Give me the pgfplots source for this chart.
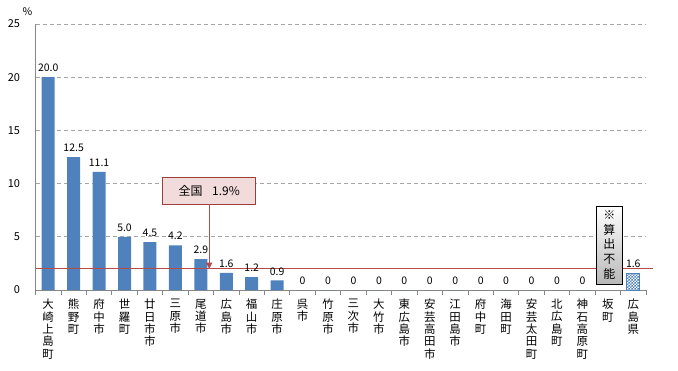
\documentclass[border=0pt]{standalone}
\usepackage{pgfplots}
\pgfplotsset{compat=1.18}
\usepackage{pgfplotstable}
\usepackage{fontspec}
\setmainfont{Noto Sans CJK JP}
\usetikzlibrary{patterns,arrows.meta}
\definecolor{barblue}{HTML}{4F81BD}
\definecolor{refred}{HTML}{B84A47}
\definecolor{calloutfill}{HTML}{F2DCDB}
\definecolor{gridgray}{HTML}{A6A6A6}
\definecolor{axgray}{HTML}{868686}
\pgfdeclarepatternformonly{finecheck}{\pgfqpoint{0pt}{0pt}}{\pgfqpoint{3pt}{3pt}}{\pgfqpoint{3pt}{3pt}}{%
  \pgfpathrectangle{\pgfqpoint{0pt}{0pt}}{\pgfqpoint{1.5pt}{1.5pt}}%
  \pgfpathrectangle{\pgfqpoint{1.5pt}{1.5pt}}{\pgfqpoint{1.5pt}{1.5pt}}%
  \pgfusepath{fill}}

\pgfplotstableread{
x y lab
0 20.0 20.0
1 12.5 12.5
2 11.1 11.1
3 5.0 5.0
4 4.5 4.5
5 4.2 4.2
6 2.9 2.9
7 1.6 1.6
8 1.2 1.2
9 0.9 0.9
10 0 0
11 0 0
12 0 0
13 0 0
14 0 0
15 0 0
16 0 0
17 0 0
18 0 0
19 0 0
20 0 0
21 0 0
}\maindata

\pgfplotstableread{
x y lab
23 1.6 1.6
}\prefdata

\begin{document}
\begin{tikzpicture}
\begin{axis}[
  scale only axis,
  width=610.5bp, height=266bp,
  xmin=-0.5, xmax=23.5,
  ymin=0, ymax=25,
  ytick={0,5,10,15,20,25},
  axis x line*=bottom,
  axis y line*=left,
  axis line style={axgray, line width=0.8bp},
  ymajorgrids,
  major grid style={gridgray, dash pattern=on 4bp off 3bp, line width=0.7bp},
  ytick style={draw=none},
  yticklabel style={font=\fontsize{11}{12}\selectfont, anchor=east, xshift=-12bp},
  /pgf/number format/assume math mode=true,
  xtick={0,...,23},
  minor xtick={-0.5,0.5,...,23.5},
  tick align=outside,
  major tick length=0pt,
  minor tick length=4.5bp,
  minor tick style={axgray, line width=0.8bp},
  xticklabels={{大\\崎\\上\\島\\町},{熊\\野\\町},{府\\中\\市},{世\\羅\\町},{廿\\日\\市\\市},{三\\原\\市},{尾\\道\\市},{広\\島\\市},{福\\山\\市},{庄\\原\\市},{呉\\市},{竹\\原\\市},{三\\次\\市},{大\\竹\\市},{東\\広\\島\\市},{安\\芸\\高\\田\\市},{江\\田\\島\\市},{府\\中\\町},{海\\田\\町},{安\\芸\\太\\田\\町},{北\\広\\島\\町},{神\\石\\高\\原\\町},{坂\\町},{広\\島\\県}},
  xticklabel style={font=\fontsize{11.5}{12.4}\selectfont, align=center, anchor=north, yshift=-9bp, inner sep=0pt},
  ybar, bar width=13bp, bar shift=0pt,
  clip=false,
  nodes near coords,
  point meta=explicit symbolic,
  every node near coord/.append style={font=\fontsize{10.5}{11}\selectfont, inner sep=0pt, yshift=5bp, anchor=south},
]
\addplot[fill=barblue, draw=none] table[x=x, y=y, meta=lab] {\maindata};
\addplot[pattern=finecheck, pattern color=barblue, draw=barblue, line width=0.6bp] table[x=x, y=y, meta=lab] {\prefdata};
\addplot[sharp plot, refred, line width=1bp, nodes near coords={}] coordinates {(-0.5,2.0) (23.78,2.0)};
\node[draw=refred!85!black, fill=calloutfill, line width=0.7bp, minimum width=93bp, minimum height=27bp, inner sep=0pt, font=\fontsize{12}{13}\selectfont] (callout) at (axis cs:6.33,9.35) {全国\hspace{0.8em}1.9\%};
\draw[refred, line width=0.8bp, -{Triangle[length=6bp,width=6bp]}] (callout.south) -- (axis cs:6.33,2.0);
\node[draw=black, line width=0.7bp, top color=white, bottom color=black!28, minimum width=25.7bp, minimum height=78bp, inner sep=0pt, align=center, font=\fontsize{12}{14.6}\selectfont] at (axis cs:22.06,4.23) {※\\算\\出\\不\\能};
\node[font=\fontsize{10.5}{11}\selectfont] at ([shift={(-8bp,12bp)}]rel axis cs:0,1) {\%};
\end{axis}
\pgfresetboundingbox
\path ([shift={(-35.5bp,-81bp)}]current axis.south west) rectangle ([shift={(32bp,24bp)}]current axis.north east);
\end{tikzpicture}
\end{document}
